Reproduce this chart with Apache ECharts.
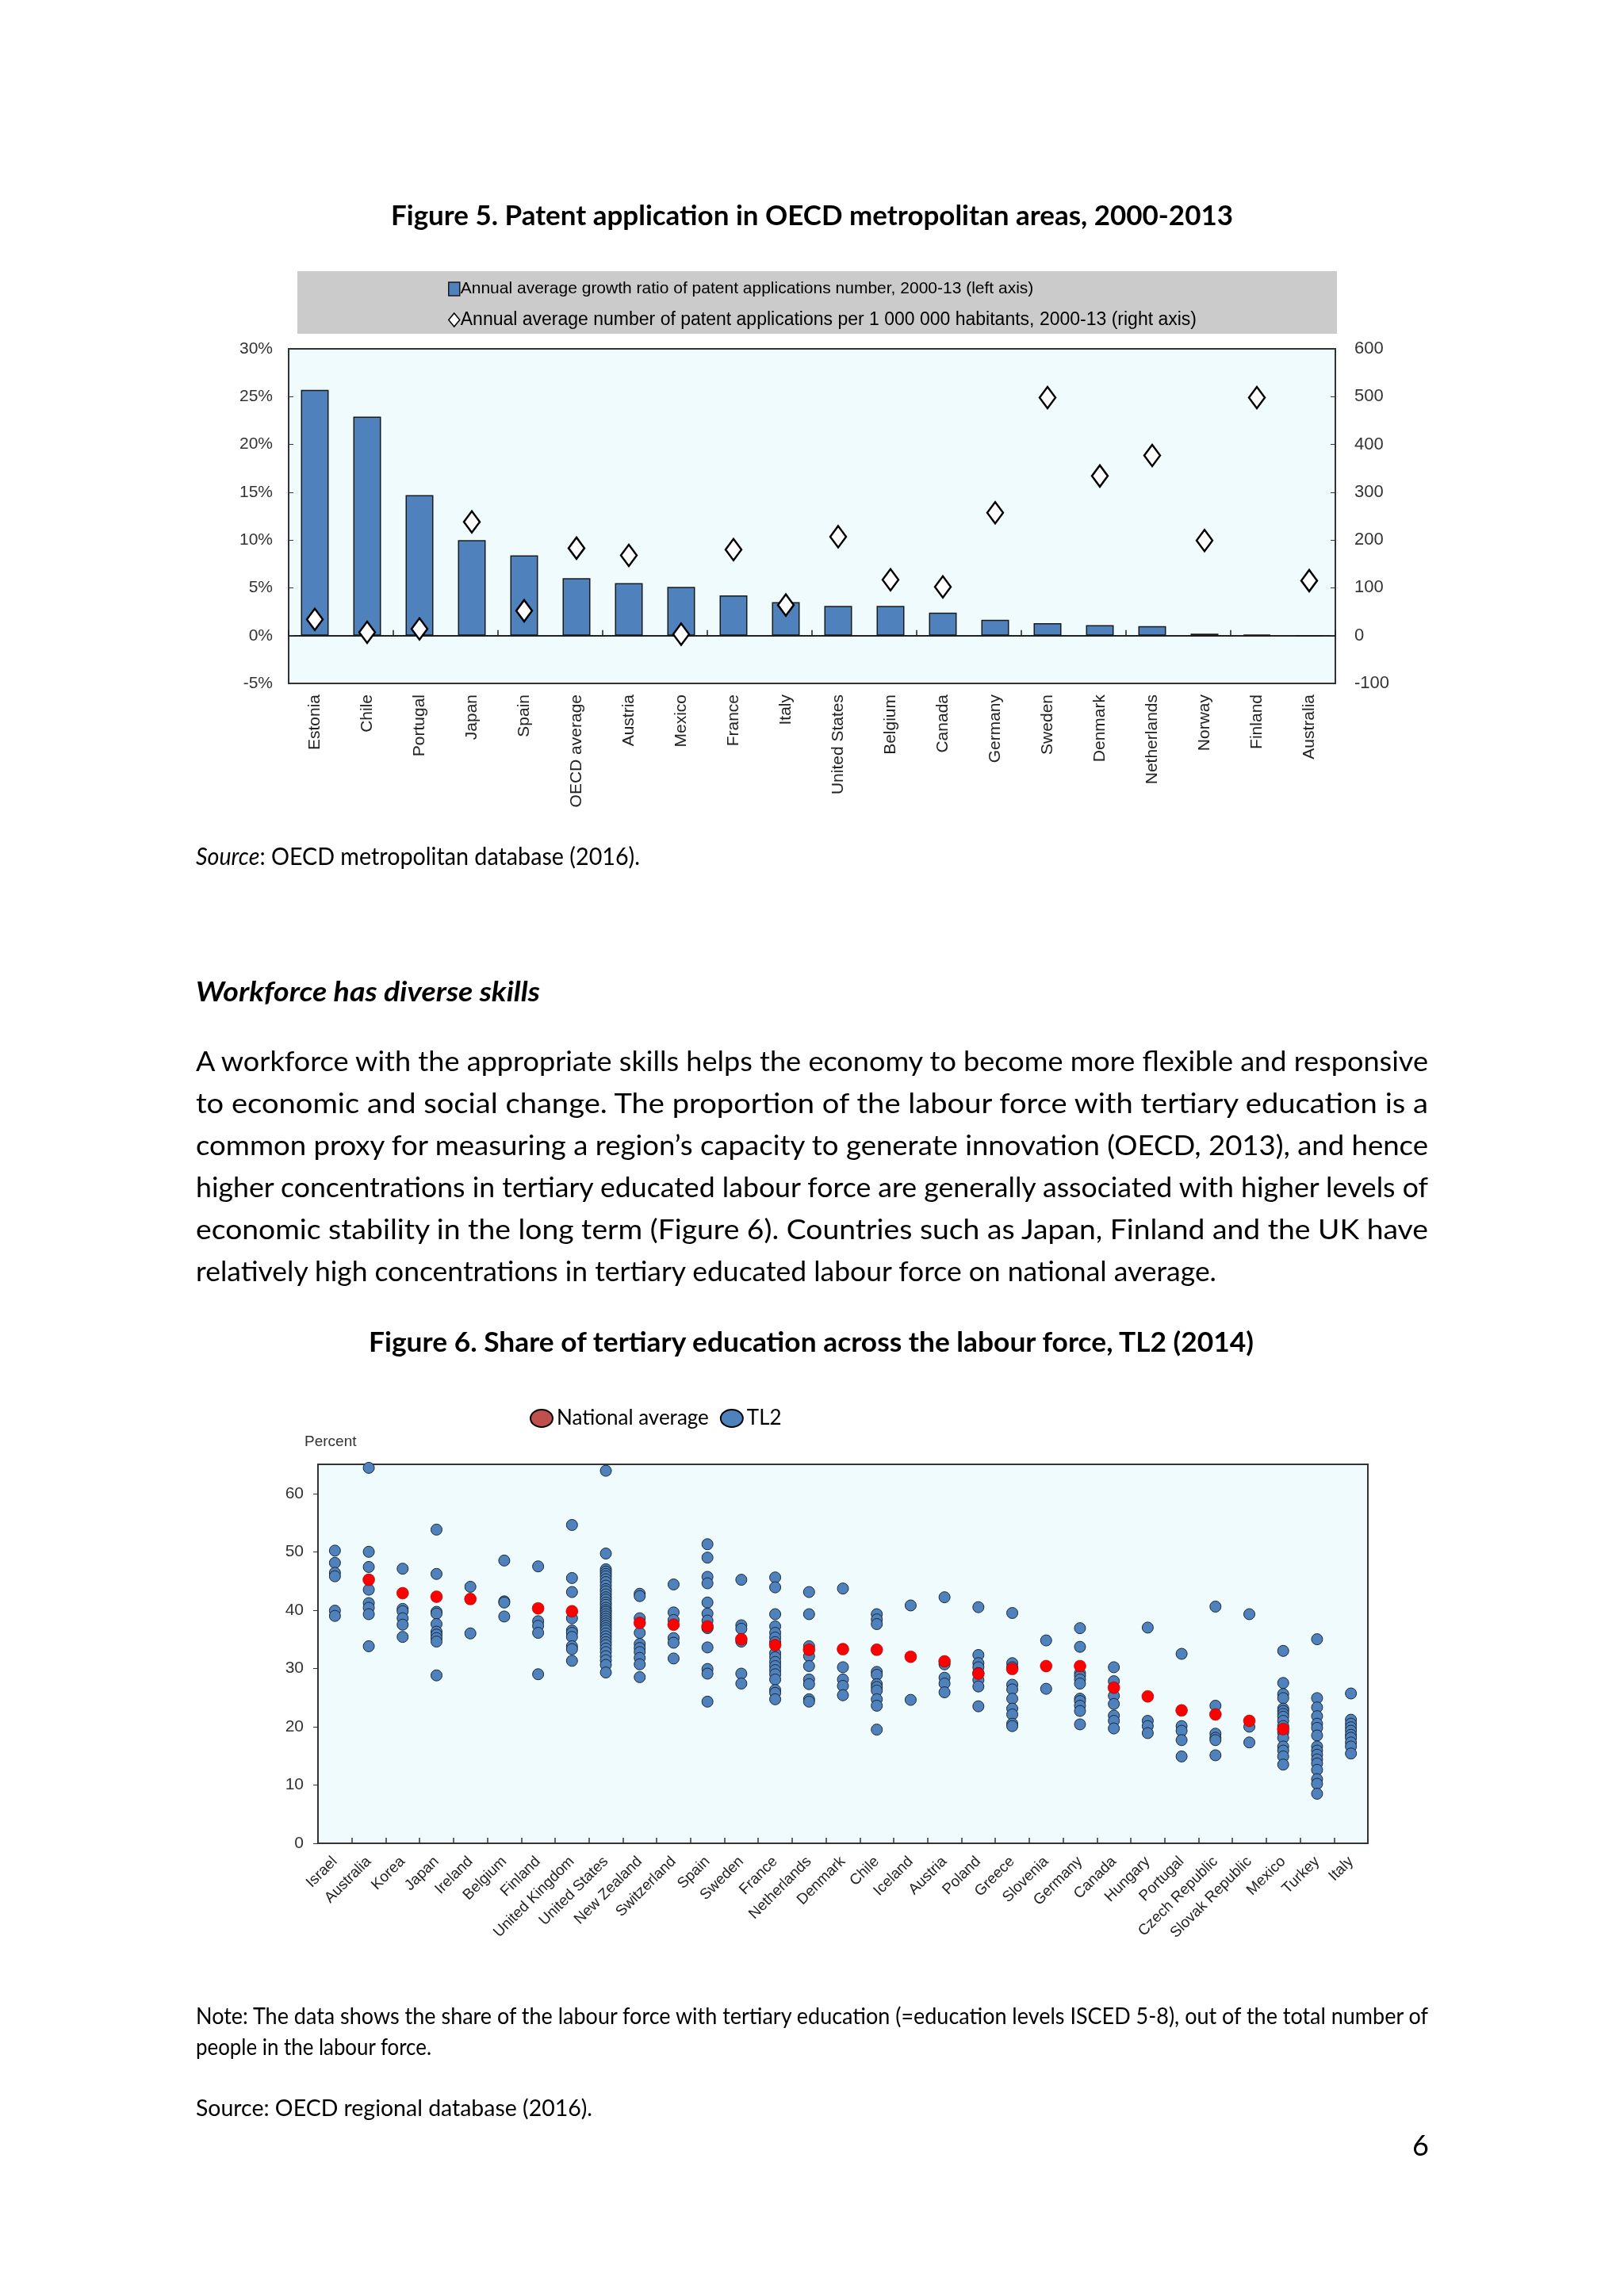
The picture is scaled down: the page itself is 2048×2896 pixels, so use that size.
<!DOCTYPE html>
<html><head><meta charset="utf-8">
<script src="https://cdn.jsdelivr.net/npm/echarts@6/dist/echarts.min.js"></script>
<style>
html,body{margin:0;padding:0;background:#fff;}
#page{position:relative;width:2048px;height:2896px;overflow:hidden;background:#fff;}
#chart{position:absolute;left:0;top:0;width:2048px;height:2896px;}
.t{position:absolute;display:inline-block;white-space:nowrap;font-family:Lato,'Noto Sans',sans-serif;color:#000;transform-origin:0 50%;line-height:1.2;}
.b{font-weight:bold;}
</style></head><body>
<div id="page">
<div id="chart"></div>
</div>
<script>
// ---------- Figure 5 data ----------
const categories5 = ['Estonia','Chile','Portugal','Japan','Spain','OECD average','Austria','Mexico','France','Italy','United States','Belgium','Canada','Germany','Sweden','Denmark','Netherlands','Norway','Finland','Australia'];
const growthRate5 = [25.7, 22.9, 14.7, 10.0, 8.4, 6.0, 5.5, 5.1, 4.2, 3.5, 3.1, 3.1, 2.4, 1.65, 1.3, 1.1, 1.0, 0.2, 0.1, -0.1];
const patentsPerMillion5 = [34, 7, 14, 238, 52, 183, 168, 3, 180, 64, 207, 117, 102, 257, 498, 334, 377, 199, 498, 115];
const seriesNames5 = ['Annual average growth ratio of patent applications number, 2000-13 (left axis)', 'Annual average number of patent applications per 1 000 000 habitants, 2000-13 (right axis)'];

// ---------- Figure 6 data ----------
const categories6 = ['Israel','Australia','Korea','Japan','Ireland','Belgium','Finland','United Kingdom','United States','New Zealand','Switzerland','Spain','Sweden','France','Netherlands','Denmark','Chile','Iceland','Austria','Poland','Greece','Slovenia','Germany','Canada','Hungary','Portugal','Czech Republic','Slovak Republic','Mexico','Turkey','Italy'];
const nationalAverage6 = [null, 45.2, 42.9, 42.3, 41.9, null, 40.3, 39.8, null, 37.8, 37.5, 37.2, 35.0, 34.0, 33.2, 33.3, 33.2, 32.0, 31.2, 29.1, 29.9, 30.4, 30.4, 26.7, 25.2, 22.8, 22.1, 21.0, 19.6, null, null];
const tl2Values6 = [
  [50.2, 48.1, 46.4, 45.8, 39.9, 39.0],
  [64.4, 50.0, 47.4, 43.5, 41.2, 40.4, 39.3, 33.8],
  [47.1, 40.2, 39.8, 38.6, 37.5, 35.4],
  [53.8, 46.2, 39.7, 39.4, 37.6, 36.3, 35.8, 35.2, 34.6, 28.8],
  [44.0, 36.0],
  [48.5, 41.5, 41.3, 38.9],
  [47.5, 38.1, 37.3, 36.1, 29.0],
  [54.6, 45.5, 43.1, 38.6, 36.5, 36.1, 35.4, 33.8, 33.3, 31.3],
  [63.9, 49.7, 47.0, 46.6, 46.2, 45.8, 45.3, 44.8, 44.2, 43.6, 43.2, 42.7, 42.2, 41.8, 41.3, 40.9, 40.4, 40.0, 39.7, 39.3, 38.9, 38.5, 38.1, 37.7, 37.3, 36.9, 36.5, 36.0, 35.5, 35.0, 34.5, 34.0, 33.4, 32.8, 32.1, 31.4, 30.6, 29.3],
  [42.8, 42.4, 38.6, 36.1, 34.2, 33.5, 32.8, 31.8, 30.7, 28.5],
  [44.4, 39.6, 38.3, 35.2, 34.4, 31.7],
  [51.3, 49.0, 45.7, 44.6, 41.3, 39.4, 38.2, 36.9, 33.6, 29.9, 29.1, 24.3],
  [45.2, 37.4, 36.8, 34.6, 29.1, 27.4],
  [45.6, 43.9, 39.3, 37.2, 36.1, 35.3, 34.5, 32.6, 31.9, 31.1, 30.4, 29.7, 29.0, 28.1, 26.3, 25.8, 24.7],
  [43.1, 39.3, 33.8, 32.1, 30.4, 28.1, 27.3, 24.7, 24.3],
  [43.7, 30.2, 28.1, 27.0, 25.4],
  [39.3, 38.4, 37.6, 29.4, 28.9, 27.3, 26.8, 26.2, 24.7, 23.6, 19.5],
  [40.8, 24.6],
  [42.2, 30.7, 28.4, 27.4, 25.9],
  [40.5, 32.3, 30.9, 30.2, 29.2, 28.0, 26.9, 23.5],
  [39.5, 30.9, 30.2, 27.2, 26.4, 24.8, 23.1, 22.1, 20.5, 20.1],
  [34.8, 26.5],
  [36.9, 33.7, 29.2, 28.7, 28.1, 27.4, 24.8, 24.4, 23.6, 22.7, 20.4],
  [30.2, 27.8, 25.3, 23.9, 21.9, 21.0, 19.7],
  [37.0, 21.0, 20.1, 18.9],
  [32.5, 20.1, 19.3, 17.7, 14.9],
  [40.6, 23.6, 18.8, 18.1, 17.7, 15.1],
  [39.3, 20.0, 17.3],
  [33.0, 27.5, 25.6, 24.9, 23.1, 22.7, 22.2, 21.7, 21.0, 20.1, 19.0, 18.1, 16.6, 15.9, 14.9, 13.5],
  [35.0, 24.9, 23.3, 21.8, 20.5, 19.8, 18.5, 16.6, 15.9, 15.2, 14.4, 13.7, 12.6, 11.0, 10.2, 8.5],
  [25.7, 21.2, 20.5, 19.9, 19.3, 18.6, 18.1, 17.3, 16.6, 15.4]
];

// ---------- Page text ----------
const texts = [
  {html:'Figure 5. Patent application in OECD metropolitan areas, 2000-2013', x:493, cy:271, w:1062, fs:34, cls:'b'},
  {html:'<i>Source</i>: OECD metropolitan database (2016).', x:247, cy:1080, w:560, fs:31},
  {html:'<b><i>Workforce has diverse skills</i></b>', x:247, cy:1250, w:434, fs:34},
  {html:'A workforce with the appropriate skills helps the economy to become more flexible and responsive', x:247, cy:1338, w:1554, fs:34},
  {html:'to economic and social change. The proportion of the labour force with tertiary education is a', x:247, cy:1391, w:1554, fs:34},
  {html:'common proxy for measuring a region\u2019s capacity to generate innovation (OECD, 2013), and hence', x:247, cy:1444, w:1554, fs:34},
  {html:'higher concentrations in tertiary educated labour force are generally associated with higher levels of', x:247, cy:1497, w:1554, fs:34},
  {html:'economic stability in the long term (Figure 6). Countries such as Japan, Finland and the UK have', x:247, cy:1550, w:1554, fs:34},
  {html:'relatively high concentrations in tertiary educated labour force on national average.', x:247, cy:1603, w:1287, fs:34},
  {html:'Figure 6. Share of tertiary education across the labour force, TL2 (2014)', x:465, cy:1692, w:1116, fs:34, cls:'b'},
  {html:'Note: The data shows the share of the labour force with tertiary education (=education levels ISCED 5-8), out of the total number of', x:247, cy:2543, w:1554, fs:28},
  {html:'people in the labour force.', x:247, cy:2582, w:297, fs:28},
  {html:'Source: OECD regional database (2016).', x:247, cy:2658, w:500, fs:29},
  {html:'6', x:1781, cy:2706, w:0, fs:36}
];
const page = document.getElementById('page');
const els = texts.map(t => {
  const d = document.createElement('div');
  d.className = 't' + (t.cls ? ' ' + t.cls : '');
  d.innerHTML = t.html;
  d.style.fontSize = t.fs + 'px';
  d.style.left = t.x + 'px';
  d.style.top = (t.cy - t.fs * 0.6) + 'px';
  page.appendChild(d);
  return d;
});
function fitTexts(){
  els.forEach((d, i) => {
    const t = texts[i];
    if (!t.w) return;
    d.style.transform = 'none';
    const nat = d.getBoundingClientRect().width;
    if (nat > 0) d.style.transform = 'scaleX(' + (t.w / nat) + ')';
  });
}

// ---------- Chart ----------
const chart = echarts.init(document.getElementById('chart'), null, {renderer:'canvas'});
const narrow = "'Liberation Sans Narrow','Arial Narrow','Liberation Sans',sans-serif";
const arial = "'Liberation Sans',Arial,sans-serif";
const lato = "Lato,'Noto Sans',sans-serif";
const ellipse = 'path://M0,11 A14,11 0 1,0 28,11 A14,11 0 1,0 0,11 Z';

const tl2Points = [];
tl2Values6.forEach((arr, ci) => arr.forEach(v => tl2Points.push([ci, v])));
const natPoints = [];
nationalAverage6.forEach((v, ci) => { if (v !== null) natPoints.push([ci, v]); });

const option = {
  animation: false,
  graphic: [
    {type:'rect', shape:{x:375, y:342, width:1311, height:79}, style:{fill:'#CBCBCB'}, z:-10, silent:true}
  ],
  grid: [
    {left:364, top:440, width:1320, height:422, show:true, backgroundColor:'#F0FBFE', borderColor:'#333', borderWidth:2},
    {left:401, top:1847, width:1324, height:478, show:true, backgroundColor:'#F0FBFE', borderColor:'#333', borderWidth:2}
  ],
  legend: [
    {orient:'vertical', left:560, top:349, itemGap:17, itemWidth:14, itemHeight:17,
     formatter: name => (name === seriesNames5[0] ? '{a|' : '{b|') + name + '}',
     textStyle:{fontFamily:narrow, fontSize:21, color:'#000', padding:[0,0,0,-4],
       rich:{a:{fontFamily:narrow, fontSize:21, color:'#000'}, b:{fontFamily:narrow, fontSize:23, color:'#000'}}},
     data:[
       {name:seriesNames5[0], icon:'rect', itemStyle:{color:'#4F81BD', borderColor:'#1a1a1a', borderWidth:1.5}},
       {name:seriesNames5[1], icon:'diamond', itemStyle:{color:'#fff', borderColor:'#000', borderWidth:1.5}}
     ]},
    {orient:'horizontal', left:663, top:1771, itemGap:14, itemWidth:28, itemHeight:22,
     textStyle:{fontFamily:lato, fontSize:26, color:'#000', padding:[0,0,0,0]},
     data:[
       {name:'National average', icon:ellipse, itemStyle:{color:'#C0504D', borderColor:'#000', borderWidth:2}},
       {name:'TL2', icon:ellipse, itemStyle:{color:'#4F81BD', borderColor:'#000', borderWidth:2}}
     ]}
  ],
  xAxis: [
    {gridIndex:0, type:'category', data:categories5, position:'bottom',
     axisLine:{show:false, onZero:false}, axisTick:{show:false}, splitLine:{show:false},
     axisLabel:{rotate:90, margin:14, interval:0, fontFamily:arial, fontSize:21, color:'#222'}},
    {gridIndex:0, type:'category', data:categories5, position:'bottom',
     axisLine:{show:true, onZero:true, lineStyle:{color:'#222', width:2}},
     axisTick:{show:true, inside:true, length:7, lineStyle:{color:'#222', width:1.5}},
     axisLabel:{show:false}, splitLine:{show:false}},
    {gridIndex:1, type:'category', data:categories6, position:'bottom',
     axisLine:{show:true, lineStyle:{color:'#333', width:2}},
     axisTick:{show:true, inside:true, length:7, lineStyle:{color:'#333', width:1.5}},
     axisLabel:{rotate:45, margin:20, interval:0, fontFamily:arial, fontSize:19, color:'#222'},
     splitLine:{show:false}}
  ],
  yAxis: [
    {gridIndex:0, type:'value', min:-5, max:30, interval:5, position:'left',
     axisLine:{show:false}, axisTick:{show:true, inside:true, length:6, lineStyle:{color:'#333'}},
     splitLine:{show:false},
     axisLabel:{formatter:'{value}%', margin:20, fontFamily:narrow, fontSize:21, color:'#333'}},
    {gridIndex:0, type:'value', min:-100, max:600, interval:100, position:'right',
     axisLine:{show:false}, axisTick:{show:true, inside:true, length:6, lineStyle:{color:'#333'}},
     splitLine:{show:false},
     axisLabel:{margin:24, fontFamily:narrow, fontSize:22, color:'#333'}},
    {gridIndex:1, type:'value', min:0, max:65, interval:10, position:'left',
     name:'Percent', nameLocation:'end', nameGap:19,
     nameTextStyle:{fontFamily:narrow, fontSize:19, color:'#333', align:'left', padding:[0,0,0,-17]},
     axisLine:{show:false}, axisTick:{show:true, inside:false, length:6, lineStyle:{color:'#333'}},
     splitLine:{show:false},
     axisLabel:{showMaxLabel:false, margin:18, fontFamily:narrow, fontSize:21, color:'#333'}}
  ],
  series: [
    {name:seriesNames5[0], type:'bar', xAxisIndex:0, yAxisIndex:0, data:growthRate5, barWidth:35,
     itemStyle:{color:'#4F81BD', borderColor:'#1a1a1a', borderWidth:1.5}, z:2},
    {name:seriesNames5[1], type:'scatter', xAxisIndex:0, yAxisIndex:1, data:patentsPerMillion5,
     symbol:'diamond', symbolSize:[20,27],
     itemStyle:{color:'#fff', borderColor:'#000', borderWidth:2.5, opacity:1}, z:5},
    {name:'TL2', type:'scatter', xAxisIndex:2, yAxisIndex:2, data:tl2Points, symbolSize:14,
     itemStyle:{color:'#4F81BD', borderColor:'#1B2838', borderWidth:1, opacity:1}, z:3},
    {name:'National average', type:'scatter', xAxisIndex:2, yAxisIndex:2, data:natPoints, symbolSize:15,
     itemStyle:{color:'#FF0000', borderColor:'#7a0000', borderWidth:0.5, opacity:1}, z:4}
  ]
};
chart.setOption(option);

if (document.fonts && document.fonts.ready) {
  document.fonts.ready.then(fitTexts);
}
fitTexts();
setTimeout(fitTexts, 300);
</script>
</body></html>
